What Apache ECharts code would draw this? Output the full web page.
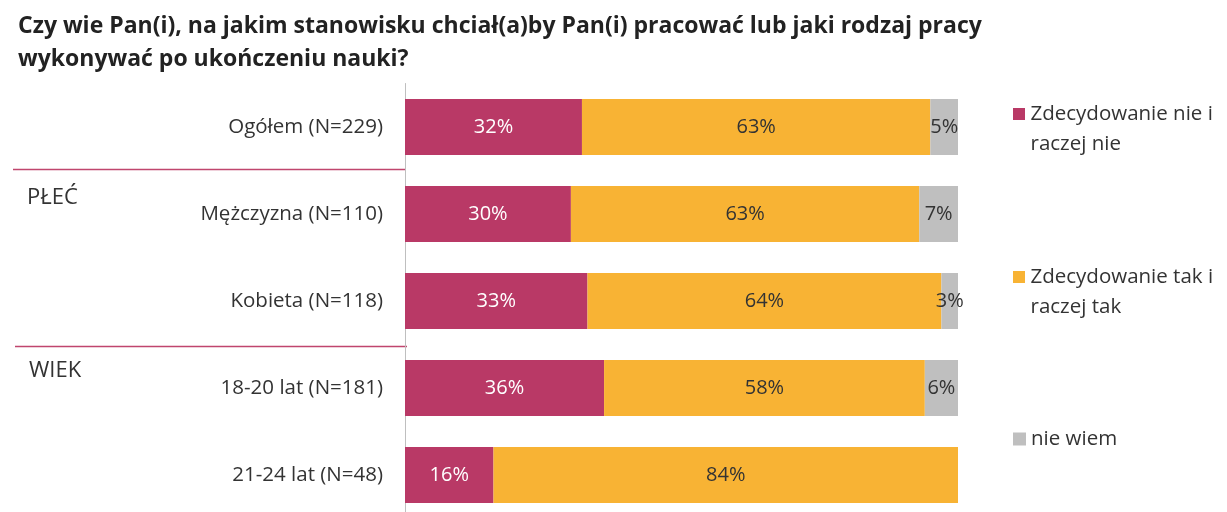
<!DOCTYPE html>
<html>
<head>
<meta charset="utf-8">
<script src="https://cdn.jsdelivr.net/npm/echarts@6/dist/echarts.min.js"></script>
<style>
  html, body { margin: 0; padding: 0; background: #fff; overflow: hidden; }
  #chart { width: 1227px; height: 520px; }
</style>
</head>
<body>
<div id="chart"></div>
<script>
// Survey answers, percent of respondents per group
const categories = [
  'Ogółem (N=229)',
  'Mężczyzna (N=110)',
  'Kobieta (N=118)',
  '18-20 lat (N=181)',
  '21-24 lat (N=48)'
];
const seriesNames = [
  'Zdecydowanie nie i\nraczej nie',
  'Zdecydowanie tak i\nraczej tak',
  'nie wiem'
];
const noValues = [32, 30, 33, 36, 16];
const yesValues = [63, 63, 64, 58, 84];
const dontKnowValues = [5, 7, 3, 6, 0];
const groupLabels = ['PŁEĆ', 'WIEK'];
const titleText = 'Czy wie Pan(i), na jakim stanowisku chciał(a)by Pan(i) pracować lub jaki rodzaj pracy\nwykonywać po ukończeniu nauki?';

const colors = ['#B93966', '#F8B334', '#BFBFBF'];
const FONT = '"Open Sans", Lato, sans-serif';

// Legend marker: a square at the top of a tall box, so it lines up with the first text line
const TOP_SQUARE = 'path://M0,0h10v10h-10z M0,34.95h0.05v0.05h-0.05z';

const chart = echarts.init(document.getElementById('chart'));

function makeSeries(name, values, color, labelColor) {
  return {
    name: name,
    type: 'bar',
    stack: 'total',
    barWidth: 56,
    data: values,
    itemStyle: { color: color },
    label: {
      show: true,
      position: 'inside',
      color: labelColor,
      fontFamily: FONT,
      fontSize: 20,
      formatter: p => (p.value > 0 ? p.value + '%' : '')
    },
    emphasis: { disabled: true }
  };
}

function legendFor(i, top) {
  const twoLines = seriesNames[i].indexOf('\n') >= 0;
  return {
    data: [seriesNames[i]],
    left: 1008,
    top: top,
    orient: 'vertical',
    icon: twoLines ? TOP_SQUARE : 'rect',
    itemWidth: 13,
    itemHeight: twoLines ? 42 : 13,
    itemGap: 0,
    selectedMode: false,
    textStyle: {
      fontFamily: FONT,
      fontSize: 20.5,
      color: '#333',
      lineHeight: 30
    }
  };
}

chart.setOption({
  animation: false,
  title: {
    text: titleText,
    left: 13,
    top: 5,
    textStyle: {
      fontFamily: FONT,
      fontWeight: 'bold',
      fontSize: 23,
      color: '#222',
      lineHeight: 33
    }
  },
  legend: [legendFor(0, 94), legendFor(1, 257), legendFor(2, 419)],
  grid: { left: 405, top: 83.5, width: 553, height: 435 },
  xAxis: {
    type: 'value',
    min: 0,
    max: 100,
    show: false
  },
  yAxis: {
    type: 'category',
    data: categories,
    inverse: true,
    axisTick: { show: false },
    axisLine: { show: true, lineStyle: { color: '#BFBFBF', width: 1 } },
    axisLabel: {
      fontFamily: FONT,
      fontSize: 20.5,
      color: '#333',
      margin: 22
    }
  },
  series: [
    makeSeries(seriesNames[0], noValues, colors[0], '#fff'),
    makeSeries(seriesNames[1], yesValues, colors[1], '#333'),
    makeSeries(seriesNames[2], dontKnowValues, colors[2], '#333')
  ]
});

// Group separators and group headings between category rows
function boundaryY(i) {
  const a = chart.convertToPixel({ yAxisIndex: 0 }, categories[i]);
  const b = chart.convertToPixel({ yAxisIndex: 0 }, categories[i + 1]);
  return (a + b) / 2;
}
const sep1 = boundaryY(0) - 1;
const sep2 = boundaryY(2) + 2;
chart.setOption({
  graphic: [
    { type: 'line', shape: { x1: 13, y1: sep1, x2: 405, y2: sep1 }, style: { stroke: '#C0466E', lineWidth: 1.5 } },
    { type: 'line', shape: { x1: 15, y1: sep2, x2: 407, y2: sep2 }, style: { stroke: '#C0466E', lineWidth: 1.5 } },
    { type: 'text', left: 27, top: sep1 + 17, style: { text: groupLabels[0], fontFamily: FONT, fontSize: 22, fill: '#333' } },
    { type: 'text', left: 29, top: sep2 + 13, style: { text: groupLabels[1], fontFamily: FONT, fontSize: 22, fill: '#333' } }
  ]
});
</script>
</body>
</html>
